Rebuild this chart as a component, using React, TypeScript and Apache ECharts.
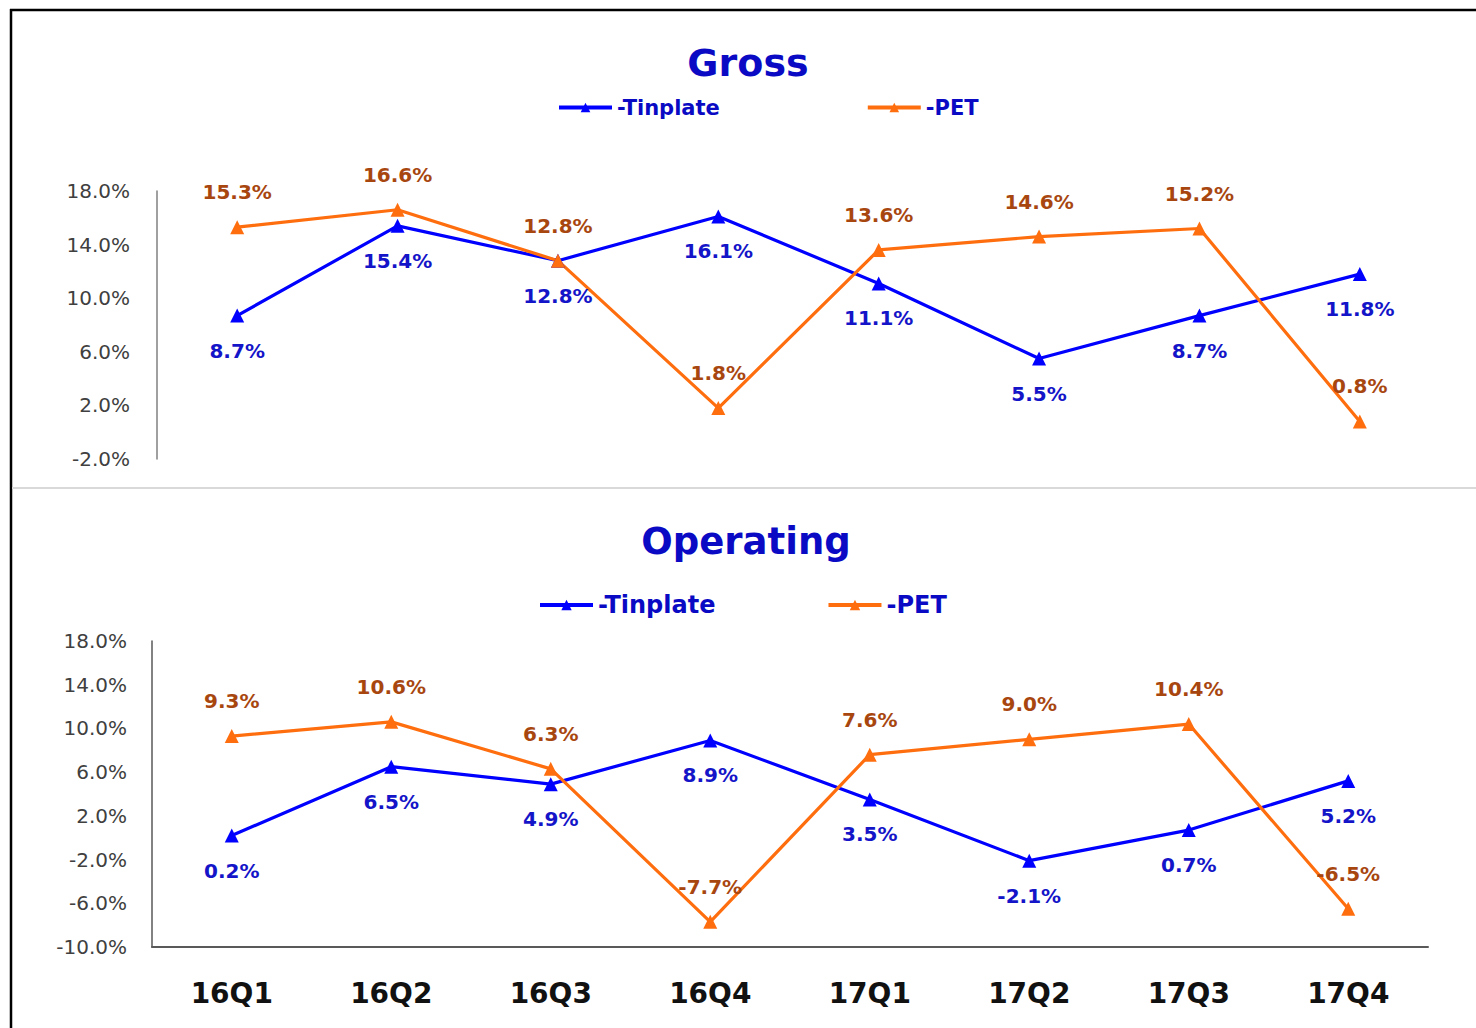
import React, { useEffect, useRef } from 'react';
import * as echarts from 'echarts';

const categories = ['16Q1', '16Q2', '16Q3', '16Q4', '17Q1', '17Q2', '17Q3', '17Q4'];
const grossTinplate = [8.7, 15.4, 12.8, 16.1, 11.1, 5.5, 8.7, 11.8];
const grossPET = [15.3, 16.6, 12.8, 1.8, 13.6, 14.6, 15.2, 0.8];
const opTinplate = [0.2, 6.5, 4.9, 8.9, 3.5, -2.1, 0.7, 5.2];
const opPET = [9.3, 10.6, 6.3, -7.7, 7.6, 9.0, 10.4, -6.5];
const grossTicks = [-2, 2, 6, 10, 14, 18];
const opTicks = [-10, -6, -2, 2, 6, 10, 14, 18];
const seriesNames = ['-Tinplate', '-PET'];
const titles = ['Gross', 'Operating'];

const FONT = 'DejaVu Sans';
const BLUE = '#0000FF';
const ORANGE = '#FF6E0E';
const BLUE_LABEL = '#1414C8';
const BROWN_LABEL = '#A8460F';
const TITLE_BLUE = '#0A0AC4';

function makeSeries(name: string, values: number[], shift: number, idx: number, color: string, labelColor: string, pos: 'top' | 'bottom') {
  return {
    name,
    type: 'line',
    xAxisIndex: idx,
    yAxisIndex: idx,
    data: values.map((v) => v + shift),
    symbol: 'triangle',
    symbolSize: 14,
    lineStyle: { color, width: 3.2 },
    itemStyle: { color },
    label: {
      show: true,
      position: pos,
      distance: 18,
      color: labelColor,
      fontFamily: FONT,
      fontWeight: 'bold',
      fontSize: 20,
      formatter: (p: any) => values[p.dataIndex].toFixed(1) + '%',
    },
    z: 3,
  };
}

export default function App() {
  const ref = useRef<HTMLDivElement>(null);
  useEffect(() => {
    document.body.style.margin = '0';
    if (!ref.current) return;
    const chart = echarts.init(ref.current, undefined, { renderer: 'svg' });
    const gShift = -grossTicks[0];
    const oShift = -opTicks[0];
    const option: any = {
      animation: false,
      backgroundColor: '#ffffff',
      title: [
        {
          text: titles[0], left: 748, top: 44, textAlign: 'center', padding: 0,
          textStyle: { fontFamily: FONT, fontWeight: 'bold', fontSize: 38, color: TITLE_BLUE },
        },
        {
          text: titles[1], left: 746, top: 523, textAlign: 'center', padding: 0,
          textStyle: { fontFamily: FONT, fontWeight: 'bold', fontSize: 37, color: TITLE_BLUE },
        },
      ],
      legend: [
        {
          data: seriesNames, left: 557, top: 97, padding: 0, itemGap: 146, itemWidth: 53, itemHeight: 12,
          lineStyle: { width: 4 },
          textStyle: { fontFamily: FONT, fontWeight: 'bold', fontSize: 21, color: TITLE_BLUE },
        },
        {
          data: seriesNames, left: 538, top: 593, padding: 0, itemGap: 111, itemWidth: 53, itemHeight: 13,
          lineStyle: { width: 4 },
          textStyle: { fontFamily: FONT, fontWeight: 'bold', fontSize: 24, color: TITLE_BLUE },
        },
      ],
      grid: [
        { left: 157, right: 36, top: 191, height: 268 },
        { left: 152, right: 48, top: 641, height: 306 },
      ],
      xAxis: [
        {
          type: 'category', gridIndex: 0, data: categories, boundaryGap: true,
          axisLine: { show: false }, axisTick: { show: false }, axisLabel: { show: false },
        },
        {
          type: 'category', gridIndex: 1, data: categories, boundaryGap: true,
          axisLine: { show: true, lineStyle: { color: '#595959', width: 2 } },
          axisTick: { show: false },
          axisLabel: { margin: 32, fontFamily: FONT, fontWeight: 'bold', fontSize: 28, color: '#111111' },
        },
      ],
      yAxis: [
        {
          type: 'value', gridIndex: 0, min: 0, max: grossTicks[grossTicks.length - 1] + gShift, interval: 4,
          splitLine: { show: false }, axisTick: { show: false },
          axisLine: { show: true, lineStyle: { color: '#808080', width: 1.5 } },
          axisLabel: {
            margin: 27, fontFamily: FONT, fontSize: 20, color: '#404040',
            formatter: (v: number) => (v - gShift).toFixed(1) + '%',
          },
        },
        {
          type: 'value', gridIndex: 1, min: 0, max: opTicks[opTicks.length - 1] + oShift, interval: 4,
          splitLine: { show: false }, axisTick: { show: false },
          axisLine: { show: true, lineStyle: { color: '#595959', width: 1.5 } },
          axisLabel: {
            margin: 25, fontFamily: FONT, fontSize: 20, color: '#404040',
            formatter: (v: number) => (v - oShift).toFixed(1) + '%',
          },
        },
      ],
      series: [
        makeSeries(seriesNames[0], grossTinplate, gShift, 0, BLUE, BLUE_LABEL, 'bottom'),
        makeSeries(seriesNames[1], grossPET, gShift, 0, ORANGE, BROWN_LABEL, 'top'),
        makeSeries(seriesNames[0], opTinplate, oShift, 1, BLUE, BLUE_LABEL, 'bottom'),
        makeSeries(seriesNames[1], opPET, oShift, 1, ORANGE, BROWN_LABEL, 'top'),
      ],
      graphic: [
        { type: 'line', shape: { x1: 10, y1: 10, x2: 1476, y2: 10 }, style: { stroke: '#000000', lineWidth: 2.5 } },
        { type: 'line', shape: { x1: 11, y1: 9, x2: 11, y2: 1028 }, style: { stroke: '#000000', lineWidth: 2.5 } },
        { type: 'line', shape: { x1: 12, y1: 488, x2: 1476, y2: 488 }, style: { stroke: '#D9D9D9', lineWidth: 2 } },
      ],
    };
    chart.setOption(option);
    return () => chart.dispose();
  }, []);
  return <div ref={ref} style={{ width: 1476, height: 1028 }} />;
}
